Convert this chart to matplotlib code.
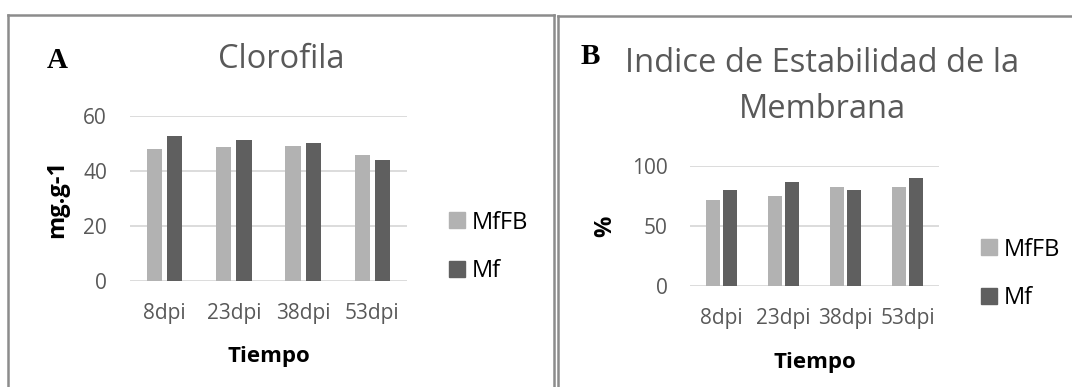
import numpy as np
import matplotlib.pyplot as plt
from matplotlib.lines import Line2D
from matplotlib.patches import Patch

plt.rcParams['font.family'] = ['Open Sans', 'DejaVu Sans']

categories = ["8dpi", "23dpi", "38dpi", "53dpi"]
series_names = ["MfFB", "Mf"]

# panel A - Clorofila (mg.g-1)
clor_mffb = [48.2, 48.7, 49.3, 46.0]
clor_mf = [52.7, 51.4, 50.1, 43.9]

# panel B - Indice de Estabilidad de la Membrana (%)
iem_mffb = [71.5, 75.0, 83.0, 82.7]
iem_mf = [80.4, 86.5, 80.4, 89.9]

c_light = "#b2b2b2"
c_dark = "#5f5f5f"
c_text = "#595959"
c_grid = "#d9d9d9"

W, H = 1072, 387
fig = plt.figure(figsize=(W / 100, H / 100), dpi=100)


def px(x, y):
    return x / W, 1 - y / H


def panel(rect, v1, v2, ymax, step, width, off, ylab, legend_xy):
    ax = fig.add_axes(rect)
    x = np.arange(len(categories))
    ax.bar(x - off, v1, width, color=c_light, label=series_names[0], zorder=3)
    ax.bar(x + off, v2, width, color=c_dark, label=series_names[1], zorder=3)
    ax.set_xlim(-0.5, len(categories) - 0.5)
    ax.set_ylim(0, ymax)
    ax.set_yticks(np.arange(0, ymax + 1, step))
    ax.set_xticks(x)
    ax.set_xticklabels(categories)
    ax.yaxis.grid(True, color=c_grid, lw=1.3, zorder=0)
    ax.set_axisbelow(True)
    for s in ax.spines.values():
        s.set_visible(False)
    ax.tick_params(length=0, labelsize=15, colors=c_text)
    ax.tick_params(axis='x', pad=16)
    ax.tick_params(axis='y', pad=16.5)
    ax.set_xlabel("Tiempo", fontsize=16, fontweight='bold', color='black', labelpad=16)
    ax.set_ylabel(ylab, fontsize=17, fontweight='bold', color='black')
    handles = [Patch(color=c_light), Patch(color=c_dark)]
    ax.legend(handles, series_names, loc='center left', bbox_to_anchor=legend_xy,
              bbox_transform=fig.transFigure, frameon=False, fontsize=17,
              handlelength=0.68, handleheight=0.68, handletextpad=0.3,
              labelspacing=1.05, borderpad=0, borderaxespad=0)
    return ax


axA = panel([130 / W, 1 - 280.6 / H, 277 / W, 164.2 / H], clor_mffb, clor_mf,
            60, 20, 0.22, 0.145, "mg.g-1", px(449, 247))
axA.yaxis.set_label_coords(-0.22, 0.5)
axB = panel([690.4 / W, 1 - 286.2 / H, 248.2 / W, 119.9 / H], iem_mffb, iem_mf,
            100, 50, 0.225, 0.14, "%", px(981, 274))
axB.yaxis.set_label_coords(-0.296, 0.5)

# titles and panel letters
fig.text(*px(281, 60), "Clorofila", ha='center', va='center', fontsize=23.5, color=c_text)
fig.text(*px(822, 63), "Indice de Estabilidad de la", ha='center', va='center',
         fontsize=23.5, color=c_text)
fig.text(*px(822, 109), "Membrana", ha='center', va='center', fontsize=23.5, color=c_text)
fig.text(*px(57, 61), "A", ha='center', va='center', fontsize=21, fontweight='bold',
         family='Liberation Serif')
fig.text(*px(590, 57), "B", ha='center', va='center', fontsize=21, fontweight='bold',
         family='Liberation Serif')

# frames around the two panels
bc = "#8c8c8c"
for xs, ys in [((8, 8), (14.5, 400)), ((8, 554), (14.5, 14.5)), ((554, 554), (14.5, 400)),
               ((557.5, 557.5), (16, 400)), ((557.5, 1080), (16, 16))]:
    fig.add_artist(Line2D([x / W for x in xs], [1 - y / H for y in ys],
                          color=bc, lw=1.8, transform=fig.transFigure))

fig.savefig("out.png", dpi=100)
